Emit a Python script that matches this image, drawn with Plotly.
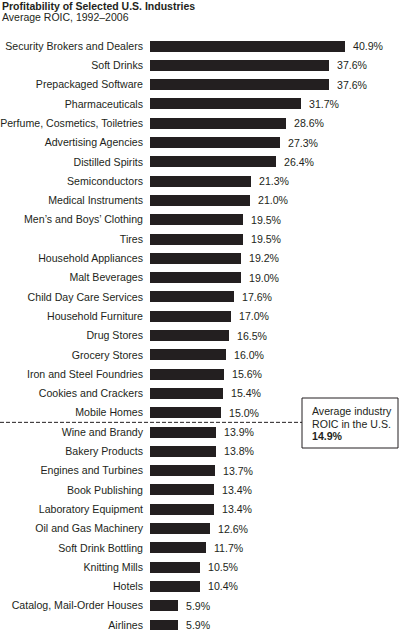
import plotly.graph_objects as go

industries = [
    "Security Brokers and Dealers", "Soft Drinks", "Prepackaged Software",
    "Pharmaceuticals", "Perfume, Cosmetics, Toiletries", "Advertising Agencies",
    "Distilled Spirits", "Semiconductors", "Medical Instruments",
    "Men’s and Boys’ Clothing", "Tires", "Household Appliances", "Malt Beverages",
    "Child Day Care Services", "Household Furniture", "Drug Stores",
    "Grocery Stores", "Iron and Steel Foundries", "Cookies and Crackers",
    "Mobile Homes", "Wine and Brandy", "Bakery Products", "Engines and Turbines",
    "Book Publishing", "Laboratory Equipment", "Oil and Gas Machinery",
    "Soft Drink Bottling", "Knitting Mills", "Hotels",
    "Catalog, Mail-Order Houses", "Airlines",
]
roic = [
    40.9, 37.6, 37.6, 31.7, 28.6, 27.3, 26.4, 21.3, 21.0, 19.5, 19.5, 19.2,
    19.0, 17.6, 17.0, 16.5, 16.0, 15.6, 15.4, 15.0, 13.9, 13.8, 13.7, 13.4,
    13.4, 12.6, 11.7, 10.5, 10.4, 5.9, 5.9,
]
average_roic = 14.9
title = "Profitability of Selected U.S. Industries"
subtitle = "Average ROIC, 1992–2006"

INK = "#231f20"
FONT = "Liberation Sans, Arial, Helvetica, sans-serif"
FS = 10.6

W, H = 399, 630
ML, MT = 150, 30
PW, PH = W - ML, H - MT


def px_x(px):
    return (px - ML) / PW


def px_y(py):
    return (H - py) / PH


fig = go.Figure()
fig.add_trace(go.Bar(
    x=roic, y=industries, orientation="h",
    marker=dict(color=INK, line=dict(width=0)),
    width=0.57, hoverinfo="skip",
))

annotations = []
for name, v in zip(industries, roic):
    annotations.append(dict(
        x=v, y=name, xref="x", yref="y", text=f"{v:.1f}%",
        showarrow=False, xanchor="left", yanchor="middle", xshift=6,
        font=dict(family=FONT, size=FS, color=INK),
    ))

annotations += [
    dict(x=px_x(0), y=px_y(5.5), xref="paper", yref="paper",
         text=f"<b>{title}</b>", showarrow=False, xanchor="left",
         yanchor="middle", font=dict(family=FONT, size=10.5, color=INK)),
    dict(x=px_x(0), y=px_y(16.5), xref="paper", yref="paper",
         text=subtitle, showarrow=False, xanchor="left",
         yanchor="middle", font=dict(family=FONT, size=10.5, color=INK)),
]

box_lines = ["Average industry", "ROIC in the U.S.", f"<b>{average_roic:.1f}%</b>"]
for i, t in enumerate(box_lines):
    annotations.append(dict(
        x=px_x(310), y=px_y(411.5 + i * 12.3), xref="paper", yref="paper",
        text=t, showarrow=False, xanchor="left", yanchor="middle",
        font=dict(family=FONT, size=FS, color=INK),
    ))

n_above = sum(1 for v in roic if v > average_roic)
shapes = [
    dict(type="line", xref="paper", yref="y",
         x0=px_x(0), x1=px_x(302), y0=n_above - 0.5, y1=n_above - 0.5,
         line=dict(color=INK, width=1, dash="4px,2px")),
    dict(type="rect", xref="paper", yref="paper",
         x0=px_x(302), x1=px_x(398), y0=px_y(448), y1=px_y(398),
         line=dict(color=INK, width=1), fillcolor="white"),
]

spacing = 19.3
first_row = 46
fig.update_layout(
    width=W, height=H,
    margin=dict(l=ML, r=0, t=MT, b=0, pad=0),
    paper_bgcolor="white", plot_bgcolor="white",
    showlegend=False,
    bargap=0,
    xaxis=dict(visible=False, range=[0, PW / 4.763], fixedrange=True),
    yaxis=dict(
        type="category",
        categoryorder="array", categoryarray=industries,
        range=[(H - first_row) / spacing, (MT - first_row) / spacing],
        showgrid=False, zeroline=False, showline=False, ticks="",
        ticklabelstandoff=6,
        tickfont=dict(family=FONT, size=FS, color=INK),
        fixedrange=True,
    ),
    annotations=annotations,
    shapes=shapes,
)

fig.write_html(
    "out.html",
    config={"displayModeBar": False},
    post_script="document.body.style.margin='0';document.body.style.overflow='hidden';",
)
